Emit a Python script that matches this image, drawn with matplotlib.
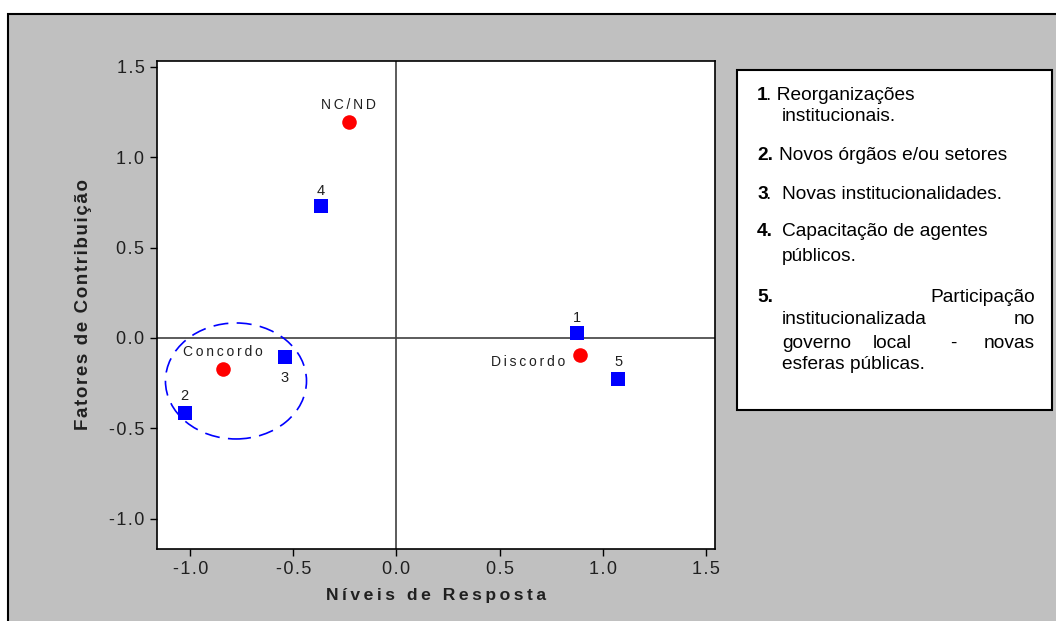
import matplotlib
matplotlib.use("Agg")
import matplotlib.pyplot as plt
from matplotlib.patches import Ellipse, Rectangle

plt.rcParams['font.family'] = ['Liberation Sans', 'DejaVu Sans']

W, H = 1056, 621

# ---- data ----
item_labels = ["1", "2", "3", "4", "5"]
item_x = [0.875, -1.027, -0.542, -0.367, 1.075]
item_y = [0.028, -0.415, -0.105, 0.730, -0.227]

resp_labels = ["NC/ND", "Concordo", "Discordo"]
resp_x = [-0.232, -0.843, 0.890]
resp_y = [1.195, -0.172, -0.094]

xticks = [-1.0, -0.5, 0.0, 0.5, 1.0, 1.5]
yticks = [-1.0, -0.5, 0.0, 0.5, 1.0, 1.5]

x_title = "Níveis de Resposta"
y_title = "Fatores de Contribuição"

THIN = "\u2009"
HAIR = "\u200a"
def spaced(s, sp=THIN):
    return sp.join(list(s))

def fx(px):
    return px / W
def fy(py):
    return 1 - py / H

fig = plt.figure(figsize=(W / 100, H / 100), dpi=100, facecolor="white")
# gray panel with black border (background axes)
bg = fig.add_axes([0, 0, 1, 1], zorder=-10)
bg.set_xlim(0, W); bg.set_ylim(H, 0); bg.axis("off")
bg.add_patch(Rectangle((8, 14), W + 10, H + 10, facecolor="#C0C0C0",
                       edgecolor="black", linewidth=1.5))
# legend box
bg.add_patch(Rectangle((737, 70), 1052 - 737, 410 - 70, facecolor="white",
                       edgecolor="black", linewidth=1.5))

ax = fig.add_axes([fx(157), fy(549), fx(715) - fx(157), fy(61) - fy(549)], zorder=1)
ax.set_facecolor("white")
ax.set_xlim(-1.161, 1.545)
ax.set_ylim(-1.168, 1.533)

ax.axhline(0, color="#404040", lw=1.2, zorder=1)
ax.axvline(0, color="#404040", lw=1.2, zorder=1)

ax.scatter(item_x, item_y, marker="s", s=95, color="#0000FF", zorder=3, linewidths=0)
ax.scatter(resp_x, resp_y, marker="o", s=110, color="#FF0000", zorder=3, linewidths=0)

# item number labels
item_off = {"1": (0, 11), "2": (0, 12), "3": (0, -15), "4": (0, 11), "5": (0, 12)}
for lab, x, y in zip(item_labels, item_x, item_y):
    dx, dy = item_off[lab]
    ax.annotate(lab, (x, y), xytext=(dx, dy), textcoords="offset points",
                ha="center", va="center", fontsize=10.5, color="#202020")

resp_off = {"NC/ND": (0, 12), "Concordo": (0, 12), "Discordo": (-37, -5)}
for lab, x, y in zip(resp_labels, resp_x, resp_y):
    dx, dy = resp_off[lab]
    ax.annotate(spaced(lab), (x, y), xytext=(dx, dy), textcoords="offset points",
                ha="center", va="center", fontsize=10, color="#202020")

ell = Ellipse((-0.778, -0.238), 0.684, 0.642, fill=False, edgecolor="#0000FF",
              linewidth=1.2, linestyle=(0, (9, 5)), zorder=2)
ax.add_patch(ell)

ax.set_xticks(xticks)
ax.set_yticks(yticks)
ax.set_xticklabels([spaced(f"{v:.1f}", HAIR) for v in xticks], fontsize=13, color="#202020")
ax.set_yticklabels([spaced(f"{v:.1f}", HAIR) for v in yticks], fontsize=13, color="#202020")
ax.tick_params(direction="out", length=5, width=1, color="black", pad=4)
for s in ax.spines.values():
    s.set_linewidth(1.2)
    s.set_color("black")

ax.set_xlabel(spaced(x_title), fontsize=12.6, fontweight="bold", labelpad=7, color="#202020")
ax.set_ylabel(spaced(y_title, HAIR), fontsize=13.5, fontweight="bold", labelpad=12, color="#202020")

FS = 13.8
def t(px, py, s, bold=False, ha="left"):
    fig.text(fx(px), fy(py), s, fontsize=FS, ha=ha, va="center",
             fontweight="bold" if bold else "normal", color="black", zorder=5)

t(757, 95, "1", bold=True); t(766, 95, ". Reorganizações")
t(782, 117, "institucionais.")
t(757, 156, "2.", bold=True); t(779, 156, "Novos órgãos e/ou setores")
t(757, 194, "3", bold=True); t(766, 194, ".  Novas institucionalidades.")
t(757, 232, "4.", bold=True); t(782, 232, "Capacitação de agentes")
t(782, 256, "públicos.")
t(757, 297, "5.", bold=True); t(1035, 297, "Participação", ha="right")
t(782, 320, "institucionalizada"); t(1035, 320, "no", ha="right")
t(782, 343, "governo"); t(873, 343, "local"); t(950, 343, "-"); t(1035, 343, "novas", ha="right")
t(782, 365, "esferas públicas.")

fig.savefig("out.png", dpi=100, facecolor="white")
